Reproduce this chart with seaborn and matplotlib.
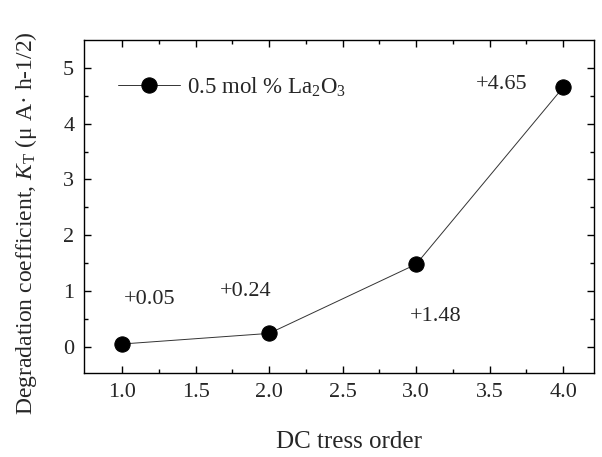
import matplotlib
matplotlib.use("Agg")
import matplotlib.pyplot as plt
import seaborn as sns
import pandas as pd

order = [1.0, 2.0, 3.0, 4.0]
kt = [0.05, 0.24, 1.48, 4.65]
labels = ["+0.05", "+0.24", "+1.48", "+4.65"]
label_pos = [(1.187, 0.84), (1.837, 1.0), (3.13, 0.55), (3.585, 4.70)]

sns.set_style("ticks")
plt.rcParams['font.family'] = ['Liberation Serif', 'DejaVu Serif']
plt.rcParams['mathtext.fontset'] = 'custom'
plt.rcParams['mathtext.rm'] = 'Liberation Serif'
plt.rcParams['mathtext.it'] = 'Liberation Serif:italic'

df = pd.DataFrame({"order": order, "kt": kt})

fig = plt.figure(figsize=(6.02, 4.57), dpi=100)
ax = fig.add_axes([0.1395, 0.1838, 0.8472, 0.7287])
sns.lineplot(data=df, x="order", y="kt", ax=ax, color="#333333", linewidth=0.7,
             marker="o", markersize=11, markerfacecolor="black", markeredgecolor="black",
             label="0.5 mol % La$_2$O$_3$")

for (x, y), t in zip(label_pos, labels):
    ax.text(x, y, t, fontsize=16, ha="center", va="center")

ax.set_xlim(0.74, 4.21)
ax.set_ylim(-0.47, 5.5)
ax.set_xticks([1.0, 1.5, 2.0, 2.5, 3.0, 3.5, 4.0])
ax.set_xticks([1.25, 1.75, 2.25, 2.75, 3.25, 3.75], minor=True)
ax.set_yticks([0, 1, 2, 3, 4, 5])
ax.set_yticks([0.5, 1.5, 2.5, 3.5, 4.5], minor=True)
ax.tick_params(which="both", direction="in", top=True, right=True, labelsize=16, width=1, color="black")
ax.tick_params(which="major", length=5, pad=7)
ax.tick_params(which="minor", length=3)
for s in ax.spines.values():
    s.set_color("black")
    s.set_linewidth(1)
ax.set_xlabel("DC tress order", fontsize=18)
ax.xaxis.set_label_coords(0.52, -0.175)
ax.set_ylabel("Degradation coefficient, $K_{\\rm T}$ (μ A· h-1/2)", fontsize=17)
ax.yaxis.set_label_coords(-0.088, 0.45)

leg = ax.legend(loc="center left", bbox_to_anchor=(0.067, 0.859), frameon=False, fontsize=16.5,
                handlelength=2.7, handletextpad=0.3, borderpad=0, borderaxespad=0)

fig.savefig("out.png", dpi=100)
